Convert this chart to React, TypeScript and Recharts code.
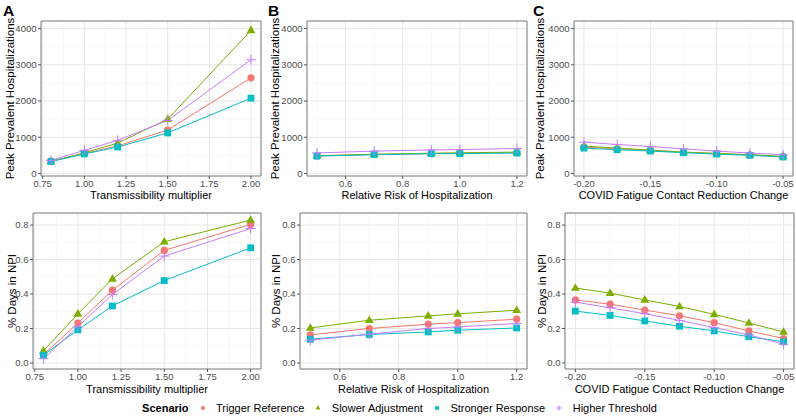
import { CartesianGrid, Line, LineChart, ReferenceArea, XAxis, YAxis } from 'recharts'

// x values of each sensitivity sweep
const transX = [0.8, 1.0, 1.2, 1.5, 2.0]
const rrX = [0.5, 0.7, 0.9, 1.0, 1.2]
const fatigueX = [-0.2, -0.175, -0.15, -0.125, -0.1, -0.075, -0.05]

// Peak prevalent hospitalizations
const transPeakTrigger = [340, 550, 760, 1200, 2640]
const transPeakSlower = [330, 570, 840, 1500, 3950]
const transPeakStronger = [330, 540, 730, 1120, 2080]
const transPeakHigher = [360, 640, 915, 1465, 3140]

const rrPeakTrigger = [485, 525, 550, 560, 575]
const rrPeakSlower = [490, 530, 560, 570, 590]
const rrPeakStronger = [480, 518, 545, 548, 565]
const rrPeakHigher = [565, 618, 650, 660, 690]

const fatiguePeakTrigger = [727, 680, 636, 590, 545, 510, 464]
const fatiguePeakSlower = [755, 700, 645, 590, 555, 518, 473]
const fatiguePeakStronger = [700, 655, 618, 573, 536, 500, 455]
const fatiguePeakHigher = [865, 800, 745, 680, 618, 563, 518]

// % days in NPI
const transNpiTrigger = [0.048, 0.232, 0.422, 0.653, 0.804]
const transNpiSlower = [0.07, 0.285, 0.488, 0.703, 0.829]
const transNpiStronger = [0.045, 0.192, 0.331, 0.478, 0.668]
const transNpiHigher = [0.025, 0.21, 0.397, 0.62, 0.78]

const rrNpiTrigger = [0.163, 0.2, 0.225, 0.234, 0.254]
const rrNpiSlower = [0.203, 0.248, 0.273, 0.285, 0.306]
const rrNpiStronger = [0.138, 0.165, 0.18, 0.19, 0.203]
const rrNpiHigher = [0.132, 0.167, 0.2, 0.209, 0.229]

const fatigueNpiTrigger = [0.366, 0.341, 0.307, 0.274, 0.234, 0.186, 0.142]
const fatigueNpiSlower = [0.435, 0.405, 0.366, 0.328, 0.282, 0.232, 0.18]
const fatigueNpiStronger = [0.301, 0.276, 0.244, 0.213, 0.186, 0.152, 0.123]
const fatigueNpiHigher = [0.353, 0.32, 0.286, 0.247, 0.205, 0.163, 0.109]

// ticks
const transTicks = [0.75, 1.0, 1.25, 1.5, 1.75, 2.0]
const transMinor = [0.875, 1.125, 1.375, 1.625, 1.875]
const rrTicks = [0.6, 0.8, 1.0, 1.2]
const rrMinor = [0.5, 0.7, 0.9, 1.1]
const fatigueTicks = [-0.2, -0.15, -0.1, -0.05]
const fatigueMinor = [-0.175, -0.125, -0.075]
const peakTicks = [0, 1000, 2000, 3000, 4000]
const peakMinor = [500, 1500, 2500, 3500]
const npiTicks = [0, 0.2, 0.4, 0.6, 0.8]
const npiMinor = [0.1, 0.3, 0.5, 0.7]

const scenarios = [
  { key: 'trigger', name: 'Trigger Reference', color: '#F8766D', shape: 'circle' },
  { key: 'slower', name: 'Slower Adjustment', color: '#7CAE00', shape: 'triangle' },
  { key: 'stronger', name: 'Stronger Response', color: '#00BFC4', shape: 'square' },
  { key: 'higher', name: 'Higher Threshold', color: '#C77CFF', shape: 'plus' },
]

const rows = (xs: number[], a: number[], b: number[], c: number[], d: number[]) =>
  xs.map((x, i) => ({ x, trigger: a[i], slower: b[i], stronger: c[i], higher: d[i] }))

function Marker({ shape, color, cx, cy, k = 1 }: { shape: string; color: string; cx: number; cy: number; k?: number }) {
  if (shape === 'circle') return <circle cx={cx} cy={cy} r={3.6 * k} fill={color} />
  if (shape === 'triangle')
    return <polygon points={`${cx},${cy - 4.8 * k} ${cx - 4.4 * k},${cy + 2.8 * k} ${cx + 4.4 * k},${cy + 2.8 * k}`} fill={color} />
  if (shape === 'square') return <rect x={cx - 3.4 * k} y={cy - 3.4 * k} width={6.8 * k} height={6.8 * k} fill={color} />
  return (
    <path d={`M${cx - 5 * k},${cy}H${cx + 5 * k}M${cx},${cy - 5 * k}V${cy + 5 * k}`} stroke={color} strokeWidth={1} fill="none" />
  )
}

const dotFor = (shape: string, color: string) => (p: any) =>
  p.cx == null ? <g key={p.index} /> : <g key={p.index}><Marker shape={shape} color={color} cx={p.cx} cy={p.cy} /></g>

interface PanelProps {
  data: any[]
  left: number
  top: number
  width: number
  height: number
  plotTop: number
  plotRight: number
  yWidth: number
  xHeight: number
  xDomain: number[]
  xTicks: number[]
  xMinor: number[]
  xDigits: number
  xTitle: string
  xTitleOffset: number
  yDomain: number[]
  yTicks: number[]
  yMinor: number[]
  yDigits: number
  yTitle: string
  yTitleX: number
}

function Panel(p: PanelProps) {
  return (
    <div style={{ position: 'absolute', left: p.left, top: p.top }}>
      <LineChart width={p.width} height={p.height} data={p.data} margin={{ top: p.plotTop, right: p.plotRight, bottom: 0, left: 0 }}>
        <CartesianGrid stroke="#f3f3f3" strokeWidth={0.6} verticalValues={p.xMinor} horizontalValues={p.yMinor} />
        <CartesianGrid stroke="#e6e6e6" strokeWidth={1} />
        <XAxis
          dataKey="x"
          type="number"
          domain={p.xDomain}
          ticks={p.xTicks}
          interval={0}
          allowDataOverflow
          height={p.xHeight}
          tickFormatter={(v: number) => v.toFixed(p.xDigits)}
          tickSize={3}
          tickMargin={1}
          axisLine={false}
          tickLine={{ stroke: '#555' }}
          tick={{ fill: '#4d4d4d', fontSize: 9.5 }}
          label={{ value: p.xTitle, position: 'insideBottom', offset: p.xTitleOffset, fill: '#000', fontSize: 11 }}
        />
        <YAxis
          type="number"
          domain={p.yDomain}
          ticks={p.yTicks}
          interval={0}
          allowDataOverflow
          width={p.yWidth}
          tickFormatter={(v: number) => v.toFixed(p.yDigits)}
          tickSize={3}
          tickMargin={1.5}
          axisLine={false}
          tickLine={{ stroke: '#555' }}
          tick={{ fill: '#4d4d4d', fontSize: 9.5 }}
          label={{ value: p.yTitle, angle: -90, position: 'insideLeft', offset: p.yTitleX, fill: '#000', fontSize: 11.5, style: { textAnchor: 'middle' } }}
        />
        <ReferenceArea x1={p.xDomain[0]} x2={p.xDomain[1]} y1={p.yDomain[0]} y2={p.yDomain[1]} fill="none" stroke="#808080" strokeWidth={1} ifOverflow="visible" />
        {scenarios.map((s) => (
          <Line key={`l-${s.key}`} type="linear" dataKey={s.key} stroke={s.color} strokeWidth={1} dot={false} activeDot={false} isAnimationActive={false} />
        ))}
        {scenarios.map((s) => (
          <Line key={`p-${s.key}`} type="linear" dataKey={s.key} stroke="none" dot={dotFor(s.shape, s.color)} activeDot={false} isAnimationActive={false} />
        ))}
      </LineChart>
    </div>
  )
}

const peakDomain = [-70, 4210]
const npiDomain = [-0.035, 0.87]
const transDomain = [0.74, 2.06]
const rrDomain = [0.465, 1.235]
const fatigueDomain = [-0.2075, -0.0425]

export default function App() {
  const topRow = { top: 0, height: 204, plotTop: 21, xHeight: 28, xTitleOffset: 5, yDomain: peakDomain, yTicks: peakTicks, yMinor: peakMinor, yDigits: 0, yTitle: 'Peak Prevalent Hospitalizations' }
  const botRow = { top: 195, height: 200, plotTop: 18, xHeight: 26, xTitleOffset: 2.5, yDomain: npiDomain, yTicks: npiTicks, yMinor: npiMinor, yDigits: 1, yTitle: '% Days in NPI' }
  const colA = { xDomain: transDomain, xTicks: transTicks, xMinor: transMinor, xDigits: 2, xTitle: 'Transmissibility multiplier' }
  const colB = { xDomain: rrDomain, xTicks: rrTicks, xMinor: rrMinor, xDigits: 1, xTitle: 'Relative Risk of Hospitalization' }
  const colC = { xDomain: fatigueDomain, xTicks: fatigueTicks, xMinor: fatigueMinor, xDigits: 2, xTitle: 'COVID Fatigue Contact Reduction Change' }

  return (
    <div style={{ position: 'absolute', left: 0, top: 0, width: 796, height: 417, background: '#fff', fontFamily: '"Liberation Sans", Arial, sans-serif', overflow: 'hidden' }}>
      <Panel {...topRow} {...colA} data={rows(transX, transPeakTrigger, transPeakSlower, transPeakStronger, transPeakHigher)} left={0} width={265} yWidth={41} plotRight={4} yTitleX={10} />
      <Panel {...topRow} {...colB} data={rows(rrX, rrPeakTrigger, rrPeakSlower, rrPeakStronger, rrPeakHigher)} left={265} width={265} yWidth={42} plotRight={3} yTitleX={10} />
      <Panel {...topRow} {...colC} data={rows(fatigueX, fatiguePeakTrigger, fatiguePeakSlower, fatiguePeakStronger, fatiguePeakHigher)} left={530} width={266} yWidth={44} plotRight={3} yTitleX={10} />
      <Panel {...botRow} {...colA} data={rows(transX, transNpiTrigger, transNpiSlower, transNpiStronger, transNpiHigher)} left={0} width={265} yWidth={33} plotRight={4} yTitleX={12} />
      <Panel {...botRow} {...colB} data={rows(rrX, rrNpiTrigger, rrNpiSlower, rrNpiStronger, rrNpiHigher)} left={265} width={265} yWidth={35} plotRight={3} yTitleX={11} />
      <Panel {...botRow} {...colC} data={rows(fatigueX, fatigueNpiTrigger, fatigueNpiSlower, fatigueNpiStronger, fatigueNpiHigher)} left={530} width={266} yWidth={35} plotRight={2} yTitleX={12} />

      <svg width={796} height={24} style={{ position: 'absolute', left: 0, top: 0 }}>
        <text x={3} y={16} fontSize={15.5} fontWeight="bold">A</text>
        <text x={268} y={16} fontSize={15.5} fontWeight="bold">B</text>
        <text x={533} y={16} fontSize={15.5} fontWeight="bold">C</text>
      </svg>

      <div style={{ position: 'absolute', left: 6, top: 400, width: 796, height: 16, display: 'flex', alignItems: 'center', justifyContent: 'center', fontSize: 11, color: '#000' }}>
        <span style={{ fontWeight: 'bold', marginRight: 9 }}>Scenario</span>
        {scenarios.map((s) => (
          <span key={s.key} style={{ display: 'flex', alignItems: 'center', marginRight: 9 }}>
            <svg width={10} height={10}>
              <Marker shape={s.shape} color={s.color} cx={5} cy={5} k={0.55} />
            </svg>
            <span style={{ marginLeft: 8.5 }}>{s.name}</span>
          </span>
        ))}
      </div>
    </div>
  )
}
